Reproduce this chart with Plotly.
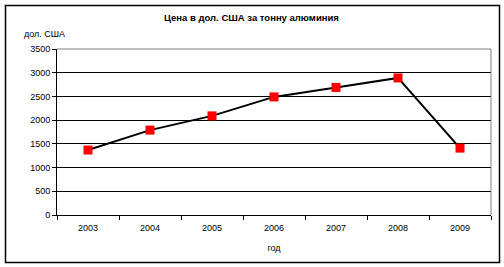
import plotly.graph_objects as go

years = ["2003", "2004", "2005", "2006", "2007", "2008", "2009"]
prices = [1370, 1790, 2090, 2490, 2690, 2890, 1410]
y_ticks = [0, 500, 1000, 1500, 2000, 2500, 3000, 3500]

FONT = "Liberation Sans, Arial, sans-serif"

fig = go.Figure()
fig.add_trace(go.Scatter(
    x=years, y=prices, mode="lines+markers",
    line=dict(color="black", width=2),
    marker=dict(symbol="square", size=9, color="#ff0000", line=dict(width=0)),
    cliponaxis=False,
))

W, H = 504, 267
L, R, T, B = 57, 491, 49, 215
pw, ph = R - L, B - T

def px(x):
    return (x - L) / pw

def py(y):
    return (B - y) / ph

fig.update_layout(
    width=W, height=H,
    margin=dict(l=L, r=W - R, t=T, b=H - B, pad=0),
    paper_bgcolor="white", plot_bgcolor="white",
    showlegend=False,
    font=dict(family=FONT, size=9, color="black"),
    xaxis=dict(
        type="category", tickson="boundaries", ticks="outside", ticklen=4,
        tickcolor="black", showline=True, linecolor="black", linewidth=1,
        showgrid=False, tickfont=dict(size=9), fixedrange=True,
        range=[-0.5, 6.5], ticklabelstandoff=4,
        title=dict(text="год", font=dict(size=9), standoff=12),
    ),
    yaxis=dict(
        range=[0, 3500], tickvals=y_ticks, ticks="outside", ticklen=4,
        tickcolor="black", showline=True, linecolor="black", linewidth=1,
        showgrid=True, gridcolor="black", gridwidth=1, zeroline=False,
        tickfont=dict(size=9), fixedrange=True,
    ),
    shapes=[
        dict(type="rect", xref="paper", yref="paper",
             x0=px(5.5), x1=px(499.5), y0=py(262.5), y1=py(5.5),
             line=dict(color="black", width=1.5), layer="below"),
        dict(type="line", xref="paper", yref="paper",
             x0=0, x1=1, y0=1, y1=1, line=dict(color="#808080", width=1), layer="above"),
        dict(type="line", xref="paper", yref="paper",
             x0=1, x1=1, y0=0, y1=1, line=dict(color="#808080", width=1), layer="above"),
    ],
    annotations=[
        dict(text="<b>Цена в дол. США за тонну алюминия</b>", xref="paper", yref="paper",
             x=px(251), y=py(18), xanchor="center", yanchor="middle",
             showarrow=False, font=dict(size=9.5)),
        dict(text="дол. США", xref="paper", yref="paper",
             x=px(22), y=py(34), xanchor="left", yanchor="middle",
             showarrow=False, font=dict(size=9)),
    ],
)

fig.write_html("out.html", config={"displayModeBar": False})
